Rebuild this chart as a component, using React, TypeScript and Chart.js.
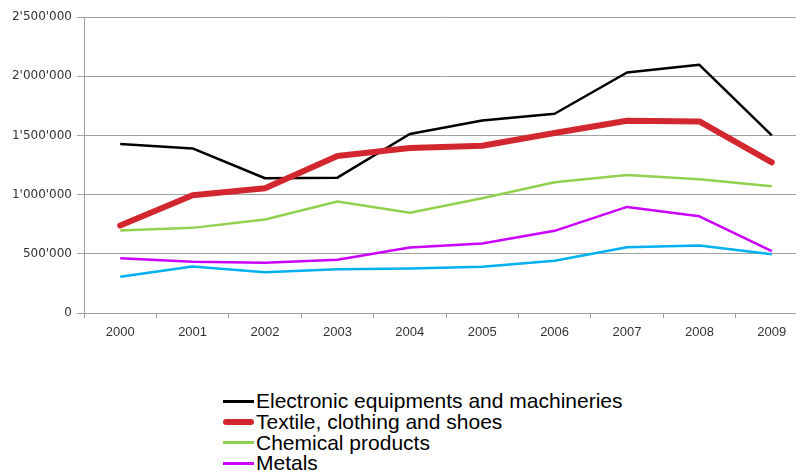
import React, { useEffect, useRef } from "react";
import { Chart, registerables } from "chart.js";

Chart.register(...registerables);

const years = ["2000", "2001", "2002", "2003", "2004", "2005", "2006", "2007", "2008", "2009"];
const yTicks = [0, 500000, 1000000, 1500000, 2000000, 2500000];

const electronic = [1427000, 1390000, 1138000, 1143000, 1512000, 1626000, 1683000, 2031000, 2096000, 1500000];
const textile = [739000, 994000, 1053000, 1326000, 1394000, 1413000, 1520000, 1624000, 1618000, 1272000];
const chemical = [696000, 719000, 789000, 941000, 846000, 969000, 1104000, 1166000, 1129000, 1070000];
const metals = [463000, 432000, 424000, 449000, 553000, 587000, 694000, 896000, 817000, 522000];
const others = [306000, 393000, 345000, 370000, 376000, 390000, 441000, 556000, 570000, 497000];

const seriesNames = [
  "Electronic equipments and machineries",
  "Textile, clothing and shoes",
  "Chemical products",
  "Metals",
  "Other products",
];
const seriesColors = ["#000000", "#d2272e", "#92d050", "#cc00ff", "#00b0f0"];
const seriesWidths = [2.5, 6, 2.5, 2.5, 2.5];

function fmt(v: number): string {
  return String(v).replace(/\B(?=(\d{3})+(?!\d))/g, "'");
}

export default function App() {
  const ref = useRef<HTMLCanvasElement | null>(null);

  useEffect(() => {
    if (!ref.current) return;
    const data = [electronic, textile, chemical, metals, others];
    const chart = new Chart(ref.current, {
      type: "line",
      data: {
        labels: years,
        datasets: data.map((d, i) => ({
          label: seriesNames[i],
          data: d,
          borderColor: seriesColors[i],
          backgroundColor: seriesColors[i],
          borderWidth: seriesWidths[i],
          pointRadius: 0,
          tension: 0,
          borderCapStyle: i === 1 ? "round" : "butt",
          borderJoinStyle: "round",
          order: i === 1 ? 0 : i + 1,
        })),
      },
      options: {
        animation: false,
        responsive: false,
        maintainAspectRatio: false,
        layout: { padding: { top: 17, right: 4, left: 0, bottom: 0 } },
        plugins: { legend: { display: false }, tooltip: { enabled: false } },
        scales: {
          x: {
            offset: true,
            grid: {
              offset: true,
              drawOnChartArea: false,
              drawTicks: true,
              tickLength: 5,
              color: "#a0a0a0",
            },
            border: { color: "#a0a0a0" },
            ticks: {
              color: "#333333",
              font: { family: "'Liberation Sans', Arial", size: 13 },
              padding: 7,
              maxRotation: 0,
            },
            afterFit: (s: any) => {
              s.height = 40;
            },
          },
          y: {
            min: 0,
            max: 2500000,
            afterBuildTicks: (s: any) => {
              s.ticks = yTicks.map((v) => ({ value: v }));
            },
            grid: { color: "#a0a0a0", tickLength: 7, drawTicks: true },
            border: { color: "#a0a0a0" },
            ticks: {
              color: "#333333",
              font: { family: "'DejaVu Sans', Verdana", size: 12 },
              padding: 5,
              callback: (v: any) => fmt(Number(v)),
            },
            afterFit: (s: any) => {
              s.width = 84;
            },
          },
        },
      },
    });
    return () => chart.destroy();
  }, []);

  return (
    <div
      style={{
        position: "fixed",
        left: 0,
        top: 0,
        width: 796,
        height: 473,
        overflow: "hidden",
        background: "#ffffff",
      }}
    >
      <canvas
        ref={ref}
        width={812}
        height={353}
        style={{ position: "absolute", left: 0, top: 0, width: 812, height: 353 }}
      />
      <div
        style={{
          position: "absolute",
          left: 223,
          top: 391,
          fontFamily: "'Liberation Sans', Arial, sans-serif",
          fontSize: 21,
          color: "#000",
        }}
      >
        {seriesNames.map((n, i) => (
          <div
            key={n}
            style={{ display: "flex", alignItems: "center", height: 20.8, whiteSpace: "nowrap" }}
          >
            <span
              style={{
                display: "inline-block",
                width: 31,
                height: seriesWidths[i] === 6 ? 6 : 3,
                borderRadius: seriesWidths[i] === 6 ? 3 : 0,
                background: seriesColors[i],
                marginRight: 2,
              }}
            />
            <span style={{ lineHeight: "20.8px" }}>{n}</span>
          </div>
        ))}
      </div>
    </div>
  );
}
